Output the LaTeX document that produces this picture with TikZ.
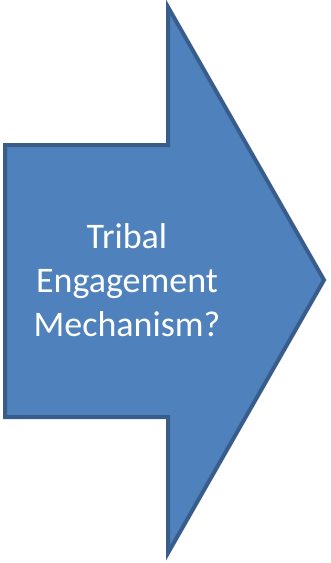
\documentclass[tikz,border=0pt]{standalone}
\usepackage{fontspec}
\setmainfont{Carlito}
\usepackage{tikz}

\definecolor{arrowfill}{HTML}{4F81BD}
\definecolor{arrowline}{HTML}{385D8A}

\begin{document}
\begin{tikzpicture}[
    x = 1pt,
    y = -1pt,
    bigarrow/.style = {fill = arrowfill,
      draw = arrowline,
      line width = 4pt,
      line join = miter},
    caption/.style = {white,
      align = center,
      font = \fontsize{36}{44}\selectfont},
    ]

    \useasboundingbox (0, 0) rectangle (330, 563);

    \draw [bigarrow] (5, 145) -- (168, 145) -- (168, 7) -- (324, 280)
    -- (168, 553) -- (168, 417) -- (5, 417) -- cycle;

    \node at (127, 280)
    [caption, name = Q] {Tribal\\Engagement\\Mechanism?};
  \end{tikzpicture}
\end{document}
